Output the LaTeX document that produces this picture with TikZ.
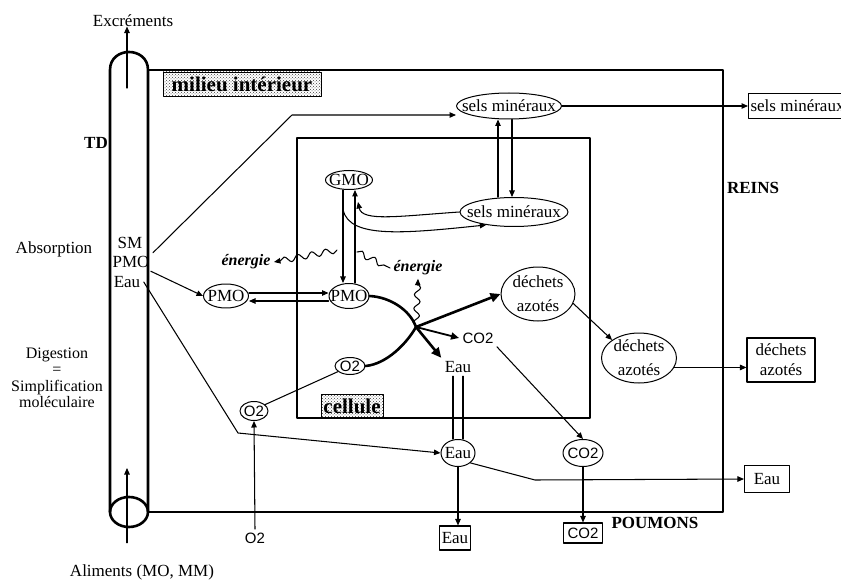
\documentclass[tikz,border=0pt]{standalone}
\usepackage{fontspec}
\setmainfont{Liberation Serif}
\setsansfont{Liberation Sans}
\usetikzlibrary{arrows.meta, shapes}
\usetikzlibrary{calc, patterns}
\usetikzlibrary{decorations.pathmorphing}

\begin{document}
\begin{tikzpicture}[line cap=round,line join=round,>={Triangle[length=6.5pt,width=5.5pt]},x=1pt,y=-1pt,
  font=\fontsize{17}{19}\selectfont]
  \tikzset{
  % parois du tube digestif, du milieu interieur et de la cellule
  paroi/.style={line width=2.6pt},
  % fleches fines et epaisses
  fl/.style={->,line width=1.05pt},
  flg/.style={-{Triangle[length=10pt,width=9pt]},line width=2.6pt},
  % compartiments ovales, le texte est pose au centre
  bulle/.style={ellipse,draw,line width=1pt,inner sep=0pt,
    label={[align=center,font=\fontsize{17}{24}\selectfont]center:#1}},
  gbulle/.style={ellipse,draw,line width=1pt,inner sep=0pt,
    label={[font=\sffamily\fontsize{15}{17}\selectfont]center:#1}},
  boite/.style={draw,line width=1.1pt,inner sep=2pt},
  titre/.style={draw,line width=0.8pt,pattern=crosshatch dots,pattern color=black!75,
    font=\bfseries\fontsize{21}{23}\selectfont,inner sep=1pt},
  gras/.style={font=\bfseries\fontsize{17}{19}\selectfont},
  gaz/.style={font=\sffamily\fontsize{15}{17}\selectfont},
  % energie liberee
  onde/.style={decorate,decoration={snake,amplitude=3pt,segment length=14pt,post length=4pt}},
}

\fill[white] (0,0) rectangle (841,580);
\useasboundingbox (0,0) rectangle (841,580);

% tube digestif et compartiments
\draw[paroi] (148,70) rectangle (723,512);
\draw[paroi] (297,138) rectangle (590,418);
\draw[paroi] (110,512) -- (110,70) .. controls (110,46) and (148,46) .. (148,70) -- (148,512);
\draw[paroi] (129,512) ellipse (19 and 15);

\node[titre, minimum width=158pt, minimum height=24pt] (milieu) at (242,84) {milieu intérieur};
\node[titre, minimum width=62pt, minimum height=23pt] (cellule) at (352,406) {cellule};

% textes a gauche et a droite
\node (excr) at (133,21) {Excréments};
\node[gras] (td) at (96,143) {TD};
\node (absorp) at (54,249) {Absorption};
\node[align=center, font=\fontsize{16}{16.5}\selectfont] (digest) at (57,378) {Digestion\\=\\Simplification\\moléculaire};
\node (alim) at (142,572) {Aliments (MO, MM)};
\node[gras] (reins) at (753,188) {REINS};
\node[gras] (poumons) at (655,523) {POUMONS};
\node (sm) at (130,243) {SM};
\node (pmoT) at (131,262) {PMO};
\node (eauT) at (127,282) {Eau};

% ovales
\node[bulle=sels minéraux, minimum width=105pt, minimum height=26pt] (smM) at (509,106) {};
\node[bulle=sels minéraux, minimum width=108pt, minimum height=29pt] (smC) at (514,212) {};
\node[bulle=GMO, minimum width=47pt, minimum height=19pt] (gmo) at (349,180) {};
\node[bulle=PMO, minimum width=40pt, minimum height=25pt] (pmoC) at (349,296) {};
\node[bulle=PMO, minimum width=45pt, minimum height=24pt] (pmoM) at (226,296) {};
\node[gbulle=O2, minimum width=30pt, minimum height=17pt] (o2C) at (350,366) {};
\node[gbulle=O2, minimum width=28pt, minimum height=19pt] (o2M) at (254,411) {};
\node[bulle={déchets\\azotés}, minimum width=74pt, minimum height=54pt] (dechC) at (538,294) {};
\node[bulle={déchets\\azotés}, minimum width=75pt, minimum height=50pt] (dechM) at (639,358) {};
\node[bulle=Eau, minimum width=34pt, minimum height=27pt] (eauM) at (458,453) {};
\node[gbulle=CO2, minimum width=40pt, minimum height=27pt] (co2M) at (583,453) {};

\node[gaz] (co2C) at (478,338) {CO2};
\node (eauC) at (458,367) {Eau};
\node[gaz] (o2) at (255,538) {O2};
\node[font=\bfseries\itshape\fontsize{16}{18}\selectfont] (enG) at (246,262) {énergie};
\node[font=\bfseries\itshape\fontsize{16}{18}\selectfont] (enD) at (418,268) {énergie};
\coordinate (R) at (416,327);

% sorties
\node[boite, anchor=west, minimum height=25pt] (smB) at (748,106) {sels minéraux};
\node[boite, align=center, minimum width=68pt, minimum height=44pt, font=\fontsize{17}{20}\selectfont] (dechB) at (781,360) {déchets\\azotés};
\node[boite, minimum width=45pt, minimum height=27pt] (eauB) at (767,479) {Eau};
\node[boite, minimum width=31pt, minimum height=24pt] (eauB2) at (455,538) {Eau};
\node[boite, gaz, minimum width=39pt, minimum height=20pt, inner sep=1pt] (co2B) at (583,533) {CO2};

% entree et sortie du tube digestif
\coordinate (tdHaut) at (127,88);
\coordinate (tdBas) at (127,468);
\draw[fl] (tdHaut) -- ([yshift=4pt]tdHaut |- excr.south);
\draw[fl, shorten <=18pt] (tdBas |- alim.north) -- (tdBas);

% absorption
\draw[fl] (pmoT.north east) -- (292,115) -- (smM.west |- 0,115);
\draw[fl] (pmoT.-25) -- (pmoM.west);
\draw[fl] (eauT.east) -- (238,433) -- (eauM.west);
\draw[fl] (o2.north) -- (o2M.south);
\draw[line width=1.05pt] (o2M.30) -- (o2C.205);

% echanges milieu / cellule
\draw[fl] ([yshift=3pt]pmoM.east) -- ([yshift=3pt]pmoC.west);
\draw[fl] ([yshift=-5pt]pmoC.west) -- ([yshift=-5pt]pmoM.east);
\draw[fl] ([xshift=-16pt]smC.north) -- ([xshift=-11pt]smM.south);
\draw[fl] ([xshift=3pt]smM.south) -- ([xshift=-2pt]smC.north);
\draw[fl] ([xshift=-6pt]gmo.south) -- ([xshift=-6pt]pmoC.north);
\draw[fl] ([xshift=6pt]pmoC.north) -- ([xshift=6pt]gmo.south);
\draw[fl] (smC.west) .. controls (400,216) and (362,222) .. ([shift={(9,12)}]gmo.south);
\coordinate (br) at (343,210);
\draw[fl] (br) .. controls (350,238) and (400,234) .. (smC.205);

% energie
\coordinate (e1) at (337,250);
\coordinate (e2) at (357,252);
\draw[->, line width=1.05pt, onde] (e1) -- (enG.east);
\draw[line width=1.05pt, onde] (e2) -- (enD.west);
\draw[->, line width=1.05pt, onde] (R) -- (enD.south);

% respiration cellulaire
\draw[line width=2.6pt] (pmoC.east) .. controls (390,297) and (410,310) .. (R);
\draw[line width=2.6pt] (o2C.east) .. controls (387,364) and (407,343) .. (R);
\draw[flg] (R) -- (dechC.west);
\draw[-{Triangle[length=8pt,width=7pt]}, line width=1.8pt] (R) -- (co2C.west);
\draw[flg] (R) -- (eauC.north west);

% elimination
\draw[fl] (co2C.south east) -- (co2M.north);
\draw[line width=1.05pt] ([xshift=-5pt]eauC.south) -- ([xshift=-5pt]eauM.north);
\draw[line width=1.05pt] ([xshift=5pt]eauC.south) -- ([xshift=5pt]eauM.north);
\draw[fl] (eauM.south east) -- (535,480) -- (eauB.west);
\draw[fl] (eauM.south) -- (eauM.south |- eauB2.north);
\draw[fl] (co2M.south) -- (co2B.north);
\draw[fl] (dechC.-15) -- (dechM.north west);
\draw[fl] (dechM.-15) -- (dechM.-15 -| dechB.west);
\draw[fl] (smM.east) -- (smB.west);
\end{tikzpicture}
\end{document}
